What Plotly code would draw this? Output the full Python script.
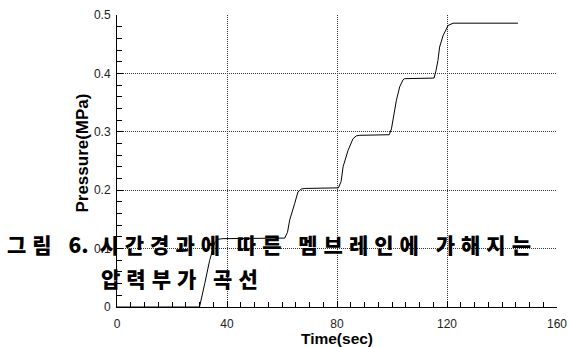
import plotly.graph_objects as go

time_sec = [0, 30.0, 31.9, 33.7, 35.5, 36.7, 38.5, 61.0, 62.0, 62.8, 64.6, 65.8, 67.0, 68.3,
            80.5, 81.5, 82.2, 84.0, 85.8, 87.0, 88.3, 99.0, 99.8, 100.4, 101.6, 102.8, 104.0,
            104.6, 115.3, 116.0, 116.7, 117.3, 118.6, 120.4, 122.2, 145.8]
pressure_mpa = [0, 0, 0.040, 0.080, 0.110, 0.116, 0.117, 0.118, 0.128, 0.149, 0.177, 0.197, 0.202, 0.203,
                0.204, 0.215, 0.240, 0.268, 0.288, 0.293, 0.294, 0.295, 0.305, 0.323, 0.354, 0.377, 0.389,
                0.391, 0.392, 0.405, 0.422, 0.445, 0.465, 0.482, 0.486, 0.486]

x_ticks = [0, 40, 80, 120, 160]
y_ticks = [0, 0.1, 0.2, 0.3, 0.4, 0.5]
y_tick_labels = ["0", "0.1", "0.2", "0.3", "0.4", "0.5"]
x_title = "Time(sec)"
y_title = "Pressure(MPa)"
caption_line1 = ["그림 ", "6.", " 시간경과에 따른 멤브레인에 가해지는"]
caption_line2 = "압력부가 곡선"

fig = go.Figure()
fig.add_trace(go.Scatter(x=time_sec, y=pressure_mpa, mode="lines",
                         line=dict(color="black", width=1), showlegend=False))

tick_font = dict(family="Liberation Sans", size=12, color="#222")
grid = dict(showgrid=True, gridcolor="#333", griddash="1px,1px", gridwidth=1)

L, R, T, B = 117.3, 557.5, 14.7, 307.0
W, H = 569, 347

fig.update_layout(
    width=W, height=H,
    margin=dict(l=L, r=W - R, t=T, b=H - B, autoexpand=False),
    paper_bgcolor="white", plot_bgcolor="white",
    xaxis=dict(range=[0, 160], tickvals=x_ticks, ticktext=[str(v) for v in x_ticks],
               showline=True, linecolor="black", linewidth=1, automargin=False,
               ticks="inside", ticklen=6, tickcolor="black",
               minor=dict(dtick=5, ticks="inside", ticklen=5, tickcolor="black", showgrid=False),
               zeroline=False, tickfont=tick_font, ticklabelstandoff=6,
               title=dict(text=x_title, standoff=0,
                          font=dict(family="Liberation Sans", size=15.5, color="black", weight="bold")),
               **grid),
    yaxis=dict(range=[0, 0.5], tickvals=y_ticks, ticktext=y_tick_labels,
               showline=True, linecolor="black", linewidth=1, automargin=False,
               ticks="inside", ticklen=6, tickcolor="black",
               minor=dict(dtick=0.02, ticks="inside", ticklen=5, tickcolor="black", showgrid=False),
               zeroline=False, tickfont=tick_font, ticklabelstandoff=3, **grid),
)

# y-axis title placed at its position in the original
fig.add_annotation(xref="paper", yref="paper", x=(82.7 - L) / (R - L), y=(B - 153) / (B - T),
                   xanchor="center", yanchor="middle", showarrow=False, textangle=-90,
                   text=y_title,
                   font=dict(family="Liberation Sans", size=17, color="black", weight="bold"))

cap_font = dict(family="Noto Sans CJK KR", size=21, color="black", weight=900)
sp = '<span style="letter-spacing:6px">'
line1_html = sp + caption_line1[0] + '</span>' + caption_line1[1] + sp + caption_line1[2] + '</span>'
fig.add_annotation(xref="paper", yref="paper", x=(5 - L) / (R - L), y=(B - 244) / (B - T),
                   xanchor="left", yanchor="middle", showarrow=False,
                   text=line1_html, font=cap_font)
fig.add_annotation(xref="paper", yref="paper", x=(99 - L) / (R - L), y=(B - 278) / (B - T),
                   xanchor="left", yanchor="middle", showarrow=False,
                   text=sp + caption_line2 + '</span>', font=cap_font)

fig.write_html("out.html", config={"displayModeBar": False},
               post_script="document.body.style.margin='0';")
